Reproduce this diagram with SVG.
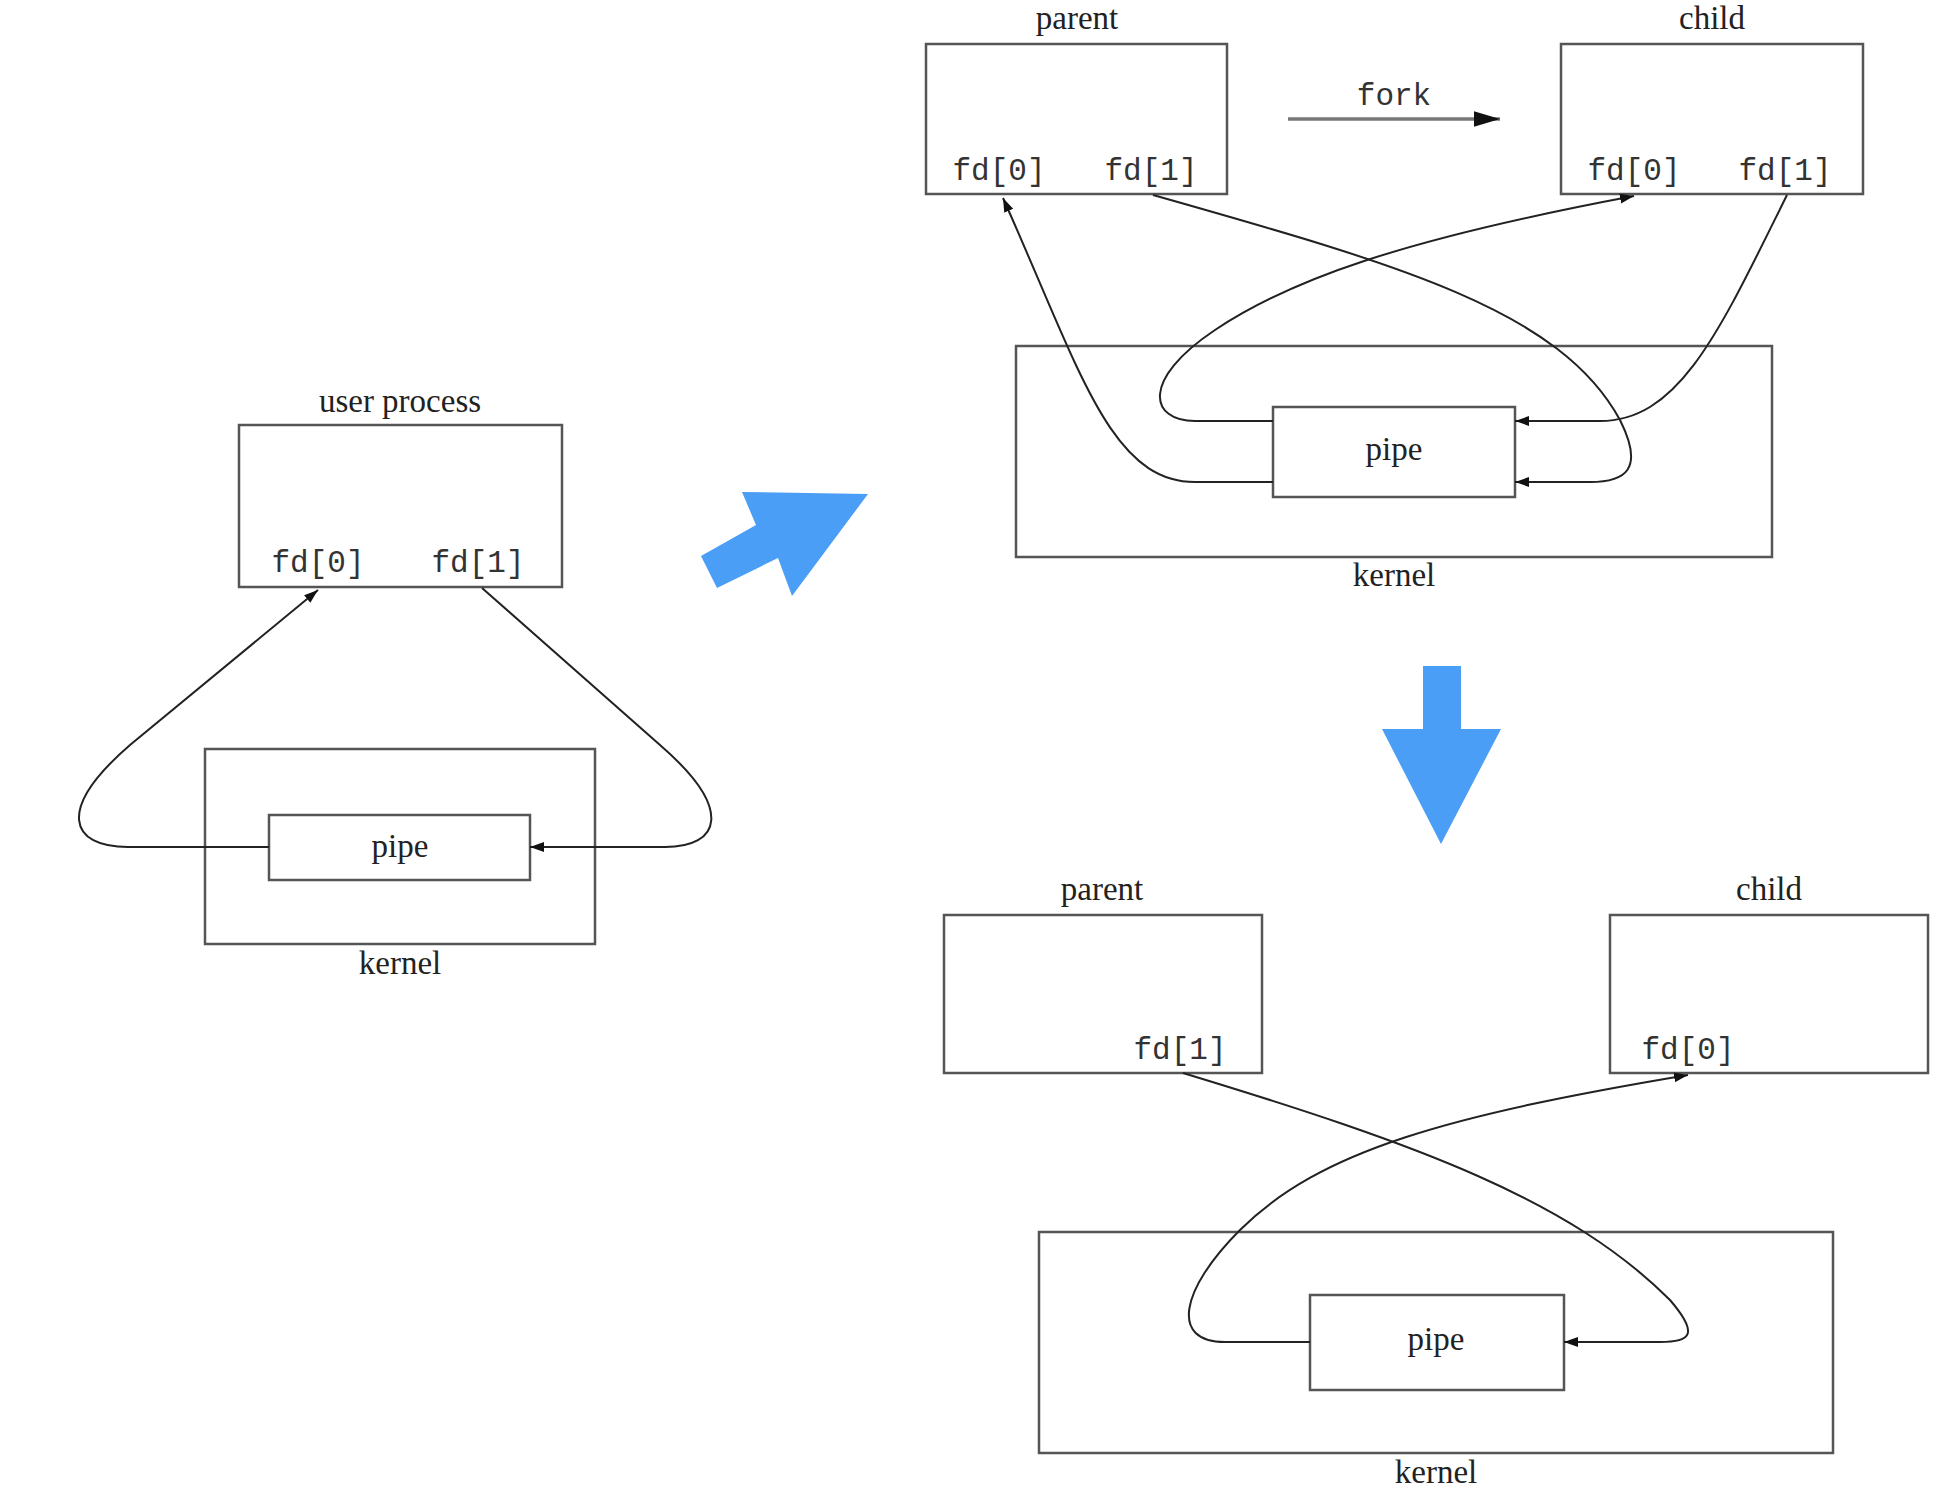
<svg xmlns="http://www.w3.org/2000/svg" width="1938" height="1490" viewBox="0 0 1938 1490">
<style>
.box{fill:none;stroke:#555;stroke-width:2.5}
.lbl{font-family:"Liberation Serif",serif;font-size:33px;fill:#222;text-anchor:middle}
.fd{font-family:"Liberation Mono",monospace;font-size:31px;fill:#333;text-anchor:middle}
.c{fill:none;stroke:#222;stroke-width:2}
.blue{fill:#4a9ef5}
</style>
<defs>
<marker id="ah" viewBox="0 0 10 10" refX="10" refY="5" markerWidth="14" markerHeight="14" markerUnits="userSpaceOnUse" orient="auto"><path d="M0,1.5 L10,5 L0,8.5 Z" fill="#111"/></marker>
<marker id="ah2" viewBox="0 0 10 10" refX="10" refY="5" markerWidth="26" markerHeight="26" markerUnits="userSpaceOnUse" orient="auto"><path d="M0,2 L10,5 L0,8 Z" fill="#111"/></marker>
</defs>
<g id="left-process"><text class="lbl" x="400" y="412">user process</text><rect class="box" x="239" y="425" width="323" height="162"/><text class="fd" x="318" y="572">fd[0]</text><text class="fd" x="478" y="572">fd[1]</text></g>
<g id="left-kernel"><rect class="box" x="205" y="749" width="390" height="195"/><text class="lbl" x="400" y="974">kernel</text></g>
<g id="left-pipe"><rect class="box" x="269" y="815" width="261" height="65"/><text class="lbl" x="400" y="857">pipe</text></g>
<g id="blue-arrows"><polygon class="blue" points="701,556 756,525 742,492 868,494 792,596 778,558 717,588"/><polygon class="blue" points="1423,666 1461,666 1461,729 1501,729 1441,844 1382,729 1423,729"/></g>
<g id="top-parent"><text class="lbl" x="1077" y="29">parent</text><rect class="box" x="926" y="44" width="301" height="150"/><text class="fd" x="999" y="180">fd[0]</text><text class="fd" x="1151" y="180">fd[1]</text></g>
<g id="top-child"><text class="lbl" x="1712" y="29">child</text><rect class="box" x="1561" y="44" width="302" height="150"/><text class="fd" x="1634" y="180">fd[0]</text><text class="fd" x="1785" y="180">fd[1]</text></g>
<g id="fork"><text class="fd" x="1394" y="105">fork</text></g>
<g id="top-kernel"><rect class="box" x="1016" y="346" width="756" height="211"/><text class="lbl" x="1394" y="586">kernel</text></g>
<g id="top-pipe"><rect class="box" x="1273" y="407" width="242" height="90"/><text class="lbl" x="1394" y="460">pipe</text></g>
<g id="bot-parent"><text class="lbl" x="1102" y="900">parent</text><rect class="box" x="944" y="915" width="318" height="158"/><text class="fd" x="1180" y="1059">fd[1]</text></g>
<g id="bot-child"><text class="lbl" x="1769" y="900">child</text><rect class="box" x="1610" y="915" width="318" height="158"/><text class="fd" x="1688" y="1059">fd[0]</text></g>
<g id="bot-kernel"><rect class="box" x="1039" y="1232" width="794" height="221"/><text class="lbl" x="1436" y="1483">kernel</text></g>
<g id="bot-pipe"><rect class="box" x="1310" y="1295" width="254" height="95"/><text class="lbl" x="1436" y="1350">pipe</text></g>
<g id="connectors">
<path class="c" d="M269,847 L128,847 C70,847 55,810 130,745 L318,590" marker-end="url(#ah)"/>
<path class="c" d="M482,588 L660,745 C735,810 720,847 665,847 L530,847" marker-end="url(#ah)"/>
<path d="M1288,119 L1500,119" stroke="#777" stroke-width="3.5" fill="none" marker-end="url(#ah2)"/>
<path class="c" d="M1273,421 L1195,421 C1150,421 1140,380 1215,330 C1290,280 1400,240 1634,196" marker-end="url(#ah)"/>
<path class="c" d="M1273,482 L1195,482 C1110,482 1080,370 1003,198" marker-end="url(#ah)"/>
<path class="c" d="M1153,195 C1400,265 1560,310 1620,420 C1645,470 1625,482 1590,482 L1515,482" marker-end="url(#ah)"/>
<path class="c" d="M1787,195 C1720,330 1680,421 1600,421 L1515,421" marker-end="url(#ah)"/>
<path class="c" d="M1310,1342 L1225,1342 C1170,1342 1180,1290 1240,1230 C1320,1150 1450,1115 1688,1075" marker-end="url(#ah)"/>
<path class="c" d="M1183,1073 C1420,1145 1570,1200 1670,1300 C1700,1335 1690,1342 1660,1342 L1564,1342" marker-end="url(#ah)"/>
</g>
</svg>
